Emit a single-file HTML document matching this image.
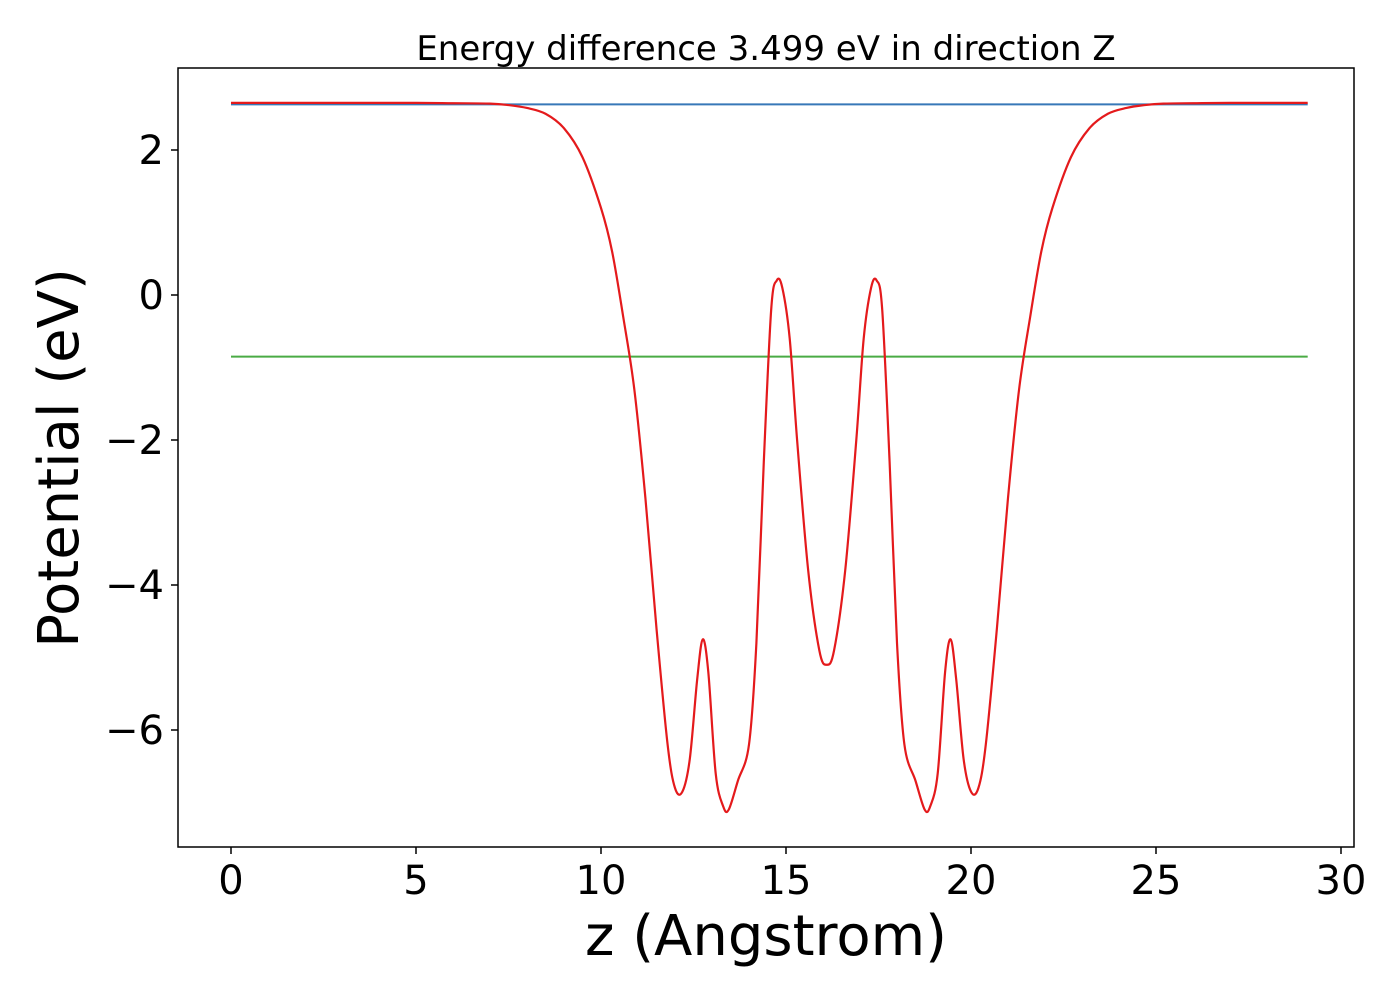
<!DOCTYPE html>
<html><head><meta charset="utf-8"><style>
html,body{margin:0;padding:0;background:#fff;width:1400px;height:1000px;overflow:hidden}
svg text{font-family:"DejaVu Sans","Liberation Sans",sans-serif;fill:#000}
</style></head><body>
<svg id="chart" width="1400" height="1000" viewBox="0 0 1400 1000" xmlns="http://www.w3.org/2000/svg">
<text x="766" y="60" font-size="34" text-anchor="middle">Energy difference 3.499 eV in direction Z</text>
<g id="xticks"></g>
<g id="yticks"></g>
<g id="series"></g>
<rect x="178" y="68" width="1176" height="779" fill="none" stroke="#000" stroke-width="1.5"/>
<text x="766" y="955" font-size="56" text-anchor="middle">z (Angstrom)</text>
<text transform="translate(78,458) rotate(-90)" font-size="56" text-anchor="middle">Potential (eV)</text>
</svg>
<script>
const xTicks=[0,5,10,15,20,25,30];
const yTicks=[2,0,-2,-4,-6];
const zValues=[0,3,5,6,7,7.5,8,8.5,9,9.5,10,10.3,10.6,10.9,11.2,11.5,11.8,12.0,12.2,12.4,12.6,12.75,12.9,13.1,13.3,13.45,13.7,14.0,14.2,14.4,14.6,14.75,14.9,15.1,15.3,15.6,15.9,16.1,16.3,16.6,16.9,17.1,17.3,17.45,17.6,17.8,18.0,18.2,18.5,18.75,18.9,19.1,19.3,19.45,19.6,19.8,20.0,20.2,20.4,20.7,21.0,21.3,21.6,21.9,22.2,22.7,23.2,23.7,24.2,24.7,25.2,26,27,29.1];
const potential=[2.65,2.65,2.65,2.645,2.64,2.62,2.58,2.5,2.3,1.9,1.2,0.6,-0.3,-1.3,-2.8,-4.6,-6.2,-6.8,-6.85,-6.4,-5.3,-4.75,-5.2,-6.6,-7.05,-7.1,-6.7,-6.2,-4.8,-2.3,-0.2,0.2,0.1,-0.6,-2.0,-3.8,-4.9,-5.1,-4.9,-3.8,-2.0,-0.6,0.1,0.2,-0.2,-2.3,-4.8,-6.2,-6.7,-7.1,-7.05,-6.6,-5.2,-4.75,-5.3,-6.4,-6.85,-6.8,-6.2,-4.6,-2.8,-1.3,-0.3,0.6,1.2,1.9,2.3,2.5,2.58,2.62,2.64,2.645,2.65,2.65];
const vbmZ=[0,29.1];const vbmLevel=[2.63,2.63];
const fermiZ=[0,29.1];const fermiLevel=[-0.85,-0.85];
const NS="http://www.w3.org/2000/svg";
const xs=z=>231+z*37;
const ys=v=>295-v*72.5;
const xg=document.getElementById('xticks'),yg=document.getElementById('yticks'),sg=document.getElementById('series');
xTicks.forEach(t=>{
 const l=document.createElementNS(NS,'line');
 
 
 l.setAttribute('x1',xs(t));l.setAttribute('x2',xs(t));l.setAttribute('y1',847);l.setAttribute('y2',854);l.setAttribute('stroke','#000');l.setAttribute('stroke-width','1.5');xg.appendChild(l);
 const tx=document.createElementNS(NS,'text');
 
 
 tx.setAttribute('x',xs(t));tx.setAttribute('y',894);tx.setAttribute('font-size','40');tx.setAttribute('text-anchor','middle');tx.textContent=t;xg.appendChild(tx);
});
yTicks.forEach(t=>{
 const l=document.createElementNS(NS,'line');
 
 
 l.setAttribute('x1',171);l.setAttribute('x2',178);l.setAttribute('y1',ys(t));l.setAttribute('y2',ys(t));l.setAttribute('stroke','#000');l.setAttribute('stroke-width','1.5');yg.appendChild(l);
 const tx=document.createElementNS(NS,'text');
 
 
 tx.setAttribute('x',164);tx.setAttribute('y',ys(t)+14);tx.setAttribute('font-size','40');tx.setAttribute('text-anchor','end');tx.textContent=(t<0?'\u2212'+(-t):t);yg.appendChild(tx);
});
function line(zs,vs,color,name){
 const p=document.createElementNS(NS,'polyline');
 
 
 p.setAttribute('points',zs.map((z,i)=>xs(z)+','+ys(vs[i])).join(' '));
 p.setAttribute('fill','none');p.setAttribute('stroke',color);p.setAttribute('stroke-width','2');sg.appendChild(p);
}
function smooth(zs,vs,color,name){
 const P=zs.map((z,i)=>[xs(z),ys(vs[i])]);
 let d='M'+P[0][0]+','+P[0][1];
 for(let i=0;i<P.length-1;i++){
  const p0=P[Math.max(0,i-1)],p1=P[i],p2=P[i+1],p3=P[Math.min(P.length-1,i+2)];
  const c1=[p1[0]+(p2[0]-p0[0])/6,p1[1]+(p2[1]-p0[1])/6];
  const c2=[p2[0]-(p3[0]-p1[0])/6,p2[1]-(p3[1]-p1[1])/6];
  d+=' C'+c1[0]+','+c1[1]+' '+c2[0]+','+c2[1]+' '+p2[0]+','+p2[1];
 }
 const p=document.createElementNS(NS,'path');
 
 
 p.setAttribute('d',d);p.setAttribute('fill','none');p.setAttribute('stroke',color);p.setAttribute('stroke-width','2.2');sg.appendChild(p);
}
line(vbmZ,vbmLevel,'#3778b8','vacuum-level-line');
line(fermiZ,fermiLevel,'#4aab45','fermi-level-line');
smooth(zValues,potential,'#e41a1c','potential-curve');
</script>
</body></html>
